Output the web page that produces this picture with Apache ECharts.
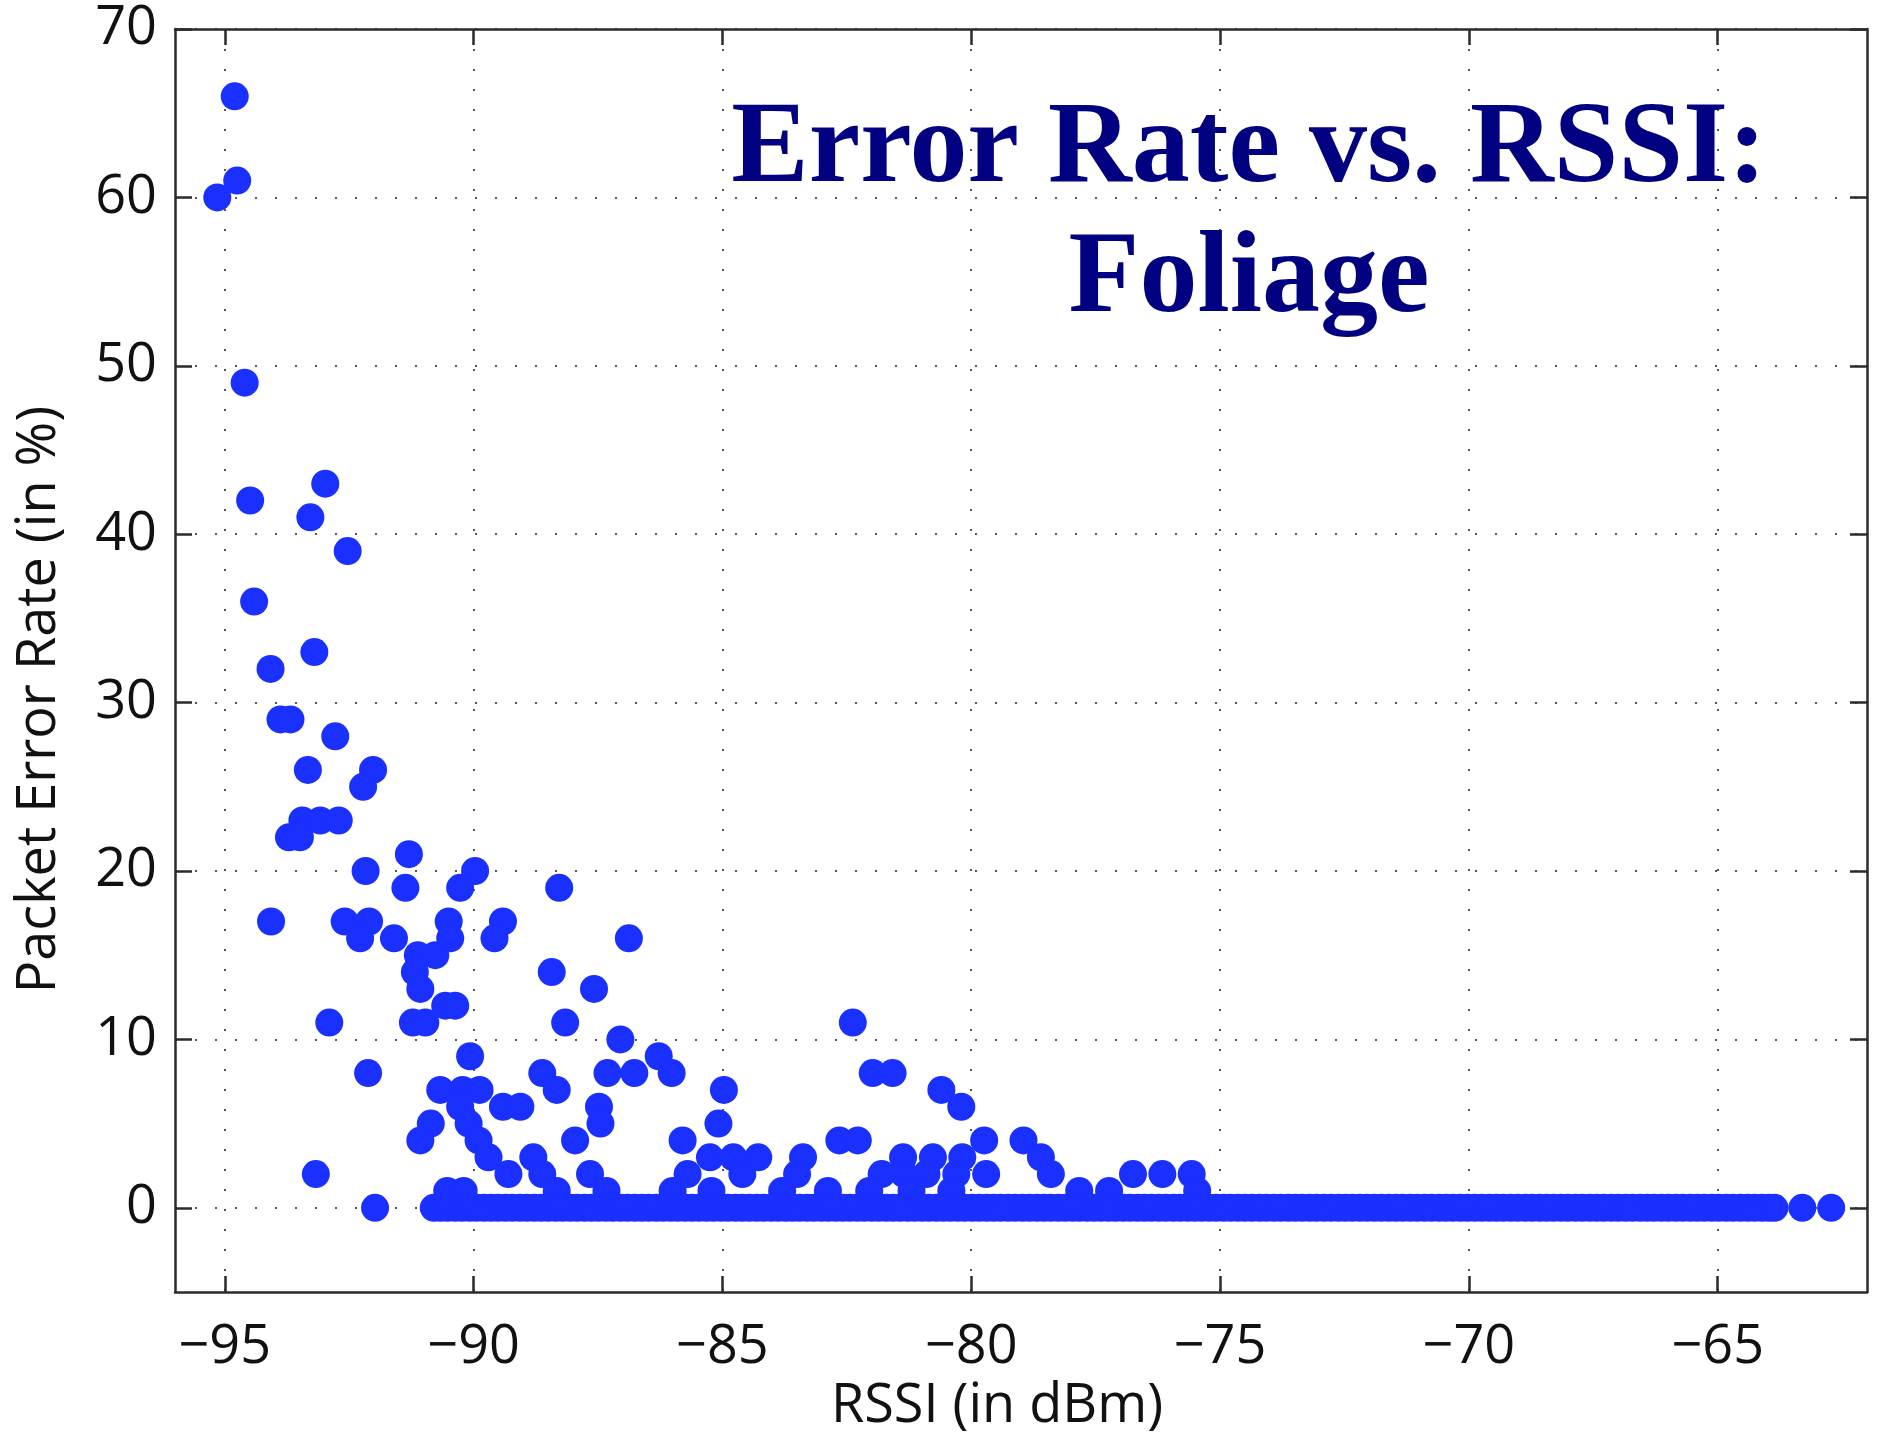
<!DOCTYPE html>
<html>
<head>
<meta charset="utf-8">
<title>Error Rate vs. RSSI: Foliage</title>
<script src="https://cdn.jsdelivr.net/npm/echarts@6/dist/echarts.min.js"></script>
<style>
  html, body { margin: 0; padding: 0; background: #fff; }
  #chart { width: 1879px; height: 1435px; }
</style>
</head>
<body>
<div id="chart"></div>
<script>
// tick labels
var xTicks = [-95, -90, -85, -80, -75, -70, -65]
var yTicks = [0, 10, 20, 30, 40, 50, 60, 70]

// scattered points (RSSI in dBm, packet error rate in %)
var rssi = [
  -94.8, -94.75, -95.15, -94.6, -92.98, -94.49, -93.28, -92.53, -94.41, -93.2, -94.08,
  -93.88, -93.68, -92.78, -93.33, -92.02, -92.22, -93.44, -93.08, -92.71, -93.71, -93.49,
  -91.3, -92.17, -89.97, -91.37, -90.27, -88.28,
  -94.07, -92.59, -92.1, -90.5, -89.41,
  -92.28, -91.6, -90.47, -89.58, -86.88,
  -91.12, -90.77, -91.18, -88.43, -91.07, -87.58, -90.57, -90.37,
  -92.9, -91.22, -90.97, -88.16, -82.38,
  -87.05, -90.07, -86.28,
  -92.12, -88.62, -87.31, -86.77, -86.02, -81.98, -81.58,
  -90.67, -90.22, -89.88, -88.33, -84.97, -80.6,
  -90.27, -89.41, -89.06, -87.48, -80.2,
  -90.86, -90.1, -87.45, -85.08,
  -91.07, -89.9, -87.96, -85.8, -82.65, -82.28, -79.74, -78.95,
  -89.7, -88.8, -85.25, -84.78, -84.28, -83.38, -81.37, -80.77, -80.18, -78.6,
  -93.17, -89.3, -88.62, -87.66, -85.7, -84.6, -83.5, -81.8, -81.35, -80.9, -80.3, -79.7,
  -78.4, -76.75, -76.16, -75.57,
  -90.53, -90.2, -88.33, -87.33, -86.0, -85.22, -83.8, -82.88, -82.05, -81.2, -80.4,
  -77.83, -77.23, -75.46,
  -91.98
]
var errorRate = [
  66, 61, 60, 49, 43, 42, 41, 39, 36, 33, 32,
  29, 29, 28, 26, 26, 25, 23, 23, 23, 22, 22,
  21, 20, 20, 19, 19, 19,
  17, 17, 17, 17, 17,
  16, 16, 16, 16, 16,
  15, 15, 14, 14, 13, 13, 12, 12,
  11, 11, 11, 11, 11,
  10, 9, 9,
  8, 8, 8, 8, 8, 8, 8,
  7, 7, 7, 7, 7, 7,
  6, 6, 6, 6, 6,
  5, 5, 5, 5,
  4, 4, 4, 4, 4, 4, 4, 4,
  3, 3, 3, 3, 3, 3, 3, 3, 3, 3,
  2, 2, 2, 2, 2, 2, 2, 2, 2, 2, 2, 2,
  2, 2, 2, 2,
  1, 1, 1, 1, 1, 1, 1, 1, 1, 1, 1,
  1, 1, 1,
  0
]

// the dense row of zero-error readings (error rate 0 %)
var rssiZero = [
  -90.80, -90.66, -90.52, -90.37, -90.23, -90.08, -89.94, -89.79, -89.65, -89.51, -89.36, -89.22,
  -89.07, -88.93, -88.78, -88.64, -88.50, -88.35, -88.21, -88.06, -87.92, -87.77, -87.63, -87.49,
  -87.34, -87.20, -87.05, -86.91, -86.76, -86.62, -86.48, -86.33, -86.19, -86.04, -85.90, -85.75,
  -85.61, -85.47, -85.32, -85.18, -85.03, -84.89, -84.74, -84.60, -84.46, -84.31, -84.17, -84.02,
  -83.88, -83.73, -83.59, -83.45, -83.30, -83.16, -83.01, -82.87, -82.72, -82.58, -82.44, -82.29,
  -82.15, -82.00, -81.86, -81.71, -81.57, -81.43, -81.28, -81.14, -80.99, -80.85, -80.70, -80.56,
  -80.42, -80.27, -80.13, -79.98, -79.84, -79.69, -79.55, -79.41, -79.26, -79.12, -78.97, -78.83,
  -78.68, -78.54, -78.40, -78.25, -78.11, -77.96, -77.82, -77.67, -77.53, -77.39, -77.24, -77.10,
  -76.95, -76.81, -76.66, -76.52, -76.38, -76.23, -76.09, -75.94, -75.80, -75.65, -75.51, -75.37,
  -75.22, -75.08, -74.93, -74.79, -74.64, -74.50, -74.36, -74.21, -74.07, -73.92, -73.78, -73.63,
  -73.49, -73.35, -73.20, -73.06, -72.91, -72.77, -72.62, -72.48, -72.34, -72.19, -72.05, -71.90,
  -71.76, -71.61, -71.47, -71.33, -71.18, -71.04, -70.89, -70.75, -70.60, -70.46, -70.32, -70.17,
  -70.03, -69.88, -69.74, -69.59, -69.45, -69.31, -69.16, -69.02, -68.87, -68.73, -68.58, -68.44,
  -68.30, -68.15, -68.01, -67.86, -67.72, -67.57, -67.43, -67.29, -67.14, -67.00, -66.85, -66.71,
  -66.56, -66.42, -66.28, -66.13, -65.99, -65.84, -65.70, -65.55, -65.41, -65.27, -65.12, -64.98,
  -64.83, -64.69, -64.54, -64.40, -64.26, -64.11, -63.97, -63.86,
  -63.30, -62.72
]

var chart = echarts.init(document.getElementById('chart'))

var dotColor = '#1a30ff'
var labelFont = '"Open Sans", "DejaVu Sans", sans-serif'
var axisColor = '#2b2b2b'

function minusFmt(v) {
  return v < 0 ? '\u2212' + Math.abs(v) : String(v)
}

var points = rssi.map(function (x, i) { return [x, errorRate[i]] })
rssiZero.forEach(function (x) { points.push([x, 0]) })

var option = {
  animation: false,
  backgroundColor: '#fff',
  grid: {
    left: 175,
    top: 29,
    right: 12,
    bottom: 143,
    outerBoundsMode: 'none'
  },
  xAxis: [
    {
      type: 'value',
      min: -96,
      max: -62,
      name: 'RSSI (in dBm)',
      nameLocation: 'middle',
      nameGap: 88,
      nameTextStyle: {
        fontFamily: labelFont,
        fontSize: 54,
        color: '#111',
        padding: [0, 48, 0, 0]
      },
      axisLine: { show: true, onZero: false, lineStyle: { color: axisColor, width: 2.5 } },
      axisTick: {
        show: true,
        inside: true,
        length: 16,
        customValues: xTicks,
        lineStyle: { color: axisColor, width: 2.5 }
      },
      axisLabel: {
        customValues: xTicks,
        formatter: minusFmt,
        fontFamily: labelFont,
        fontSize: 54,
        color: '#111',
        margin: 29
      },
      splitLine: {
        show: true,
        lineStyle: { color: '#555', width: 2, type: [2, 18] }
      }
    },
    {
      type: 'value',
      position: 'top',
      min: -96,
      max: -62,
      axisLine: { show: true, onZero: false, lineStyle: { color: axisColor, width: 2.5 } },
      axisTick: {
        show: true,
        inside: true,
        length: 16,
        customValues: xTicks,
        lineStyle: { color: axisColor, width: 2.5 }
      },
      axisLabel: { show: false },
      splitLine: { show: false }
    }
  ],
  yAxis: [
    {
      type: 'value',
      min: -5,
      max: 70,
      name: 'Packet Error Rate (in %)',
      nameLocation: 'middle',
      nameGap: 108,
      nameRotate: 90,
      nameTextStyle: {
        fontFamily: labelFont,
        fontSize: 54,
        color: '#111',
        padding: [0, 78, 0, 0]
      },
      axisLine: { show: true, onZero: false, lineStyle: { color: axisColor, width: 2.5 } },
      axisTick: {
        show: true,
        inside: true,
        length: 17,
        customValues: yTicks,
        lineStyle: { color: axisColor, width: 2.5 }
      },
      axisLabel: {
        customValues: yTicks,
        fontFamily: labelFont,
        fontSize: 54,
        color: '#111',
        margin: 18
      },
      splitLine: {
        show: true,
        lineStyle: { color: '#555', width: 2, type: [2, 18] }
      }
    },
    {
      type: 'value',
      position: 'right',
      min: -5,
      max: 70,
      axisLine: { show: true, onZero: false, lineStyle: { color: axisColor, width: 2.5 } },
      axisTick: {
        show: true,
        inside: true,
        length: 17,
        customValues: yTicks,
        lineStyle: { color: axisColor, width: 2.5 }
      },
      axisLabel: { show: false },
      splitLine: { show: false }
    }
  ],
  graphic: [
    {
      type: 'text',
      z: 100,
      x: 1249,
      y: 86,
      style: {
        text: 'Error Rate vs. RSSI:\nFoliage',
        font: 'bold 116px "Liberation Serif", "Times New Roman", serif',
        fill: '#000080',
        align: 'center',
        verticalAlign: 'top',
        lineHeight: 130
      }
    }
  ],
  series: [
    {
      type: 'scatter',
      xAxisIndex: 0,
      yAxisIndex: 0,
      symbol: 'circle',
      symbolSize: 28,
      itemStyle: { color: dotColor, opacity: 1 },
      data: points
    }
  ]
}

option && chart.setOption(option)
</script>
</body>
</html>
